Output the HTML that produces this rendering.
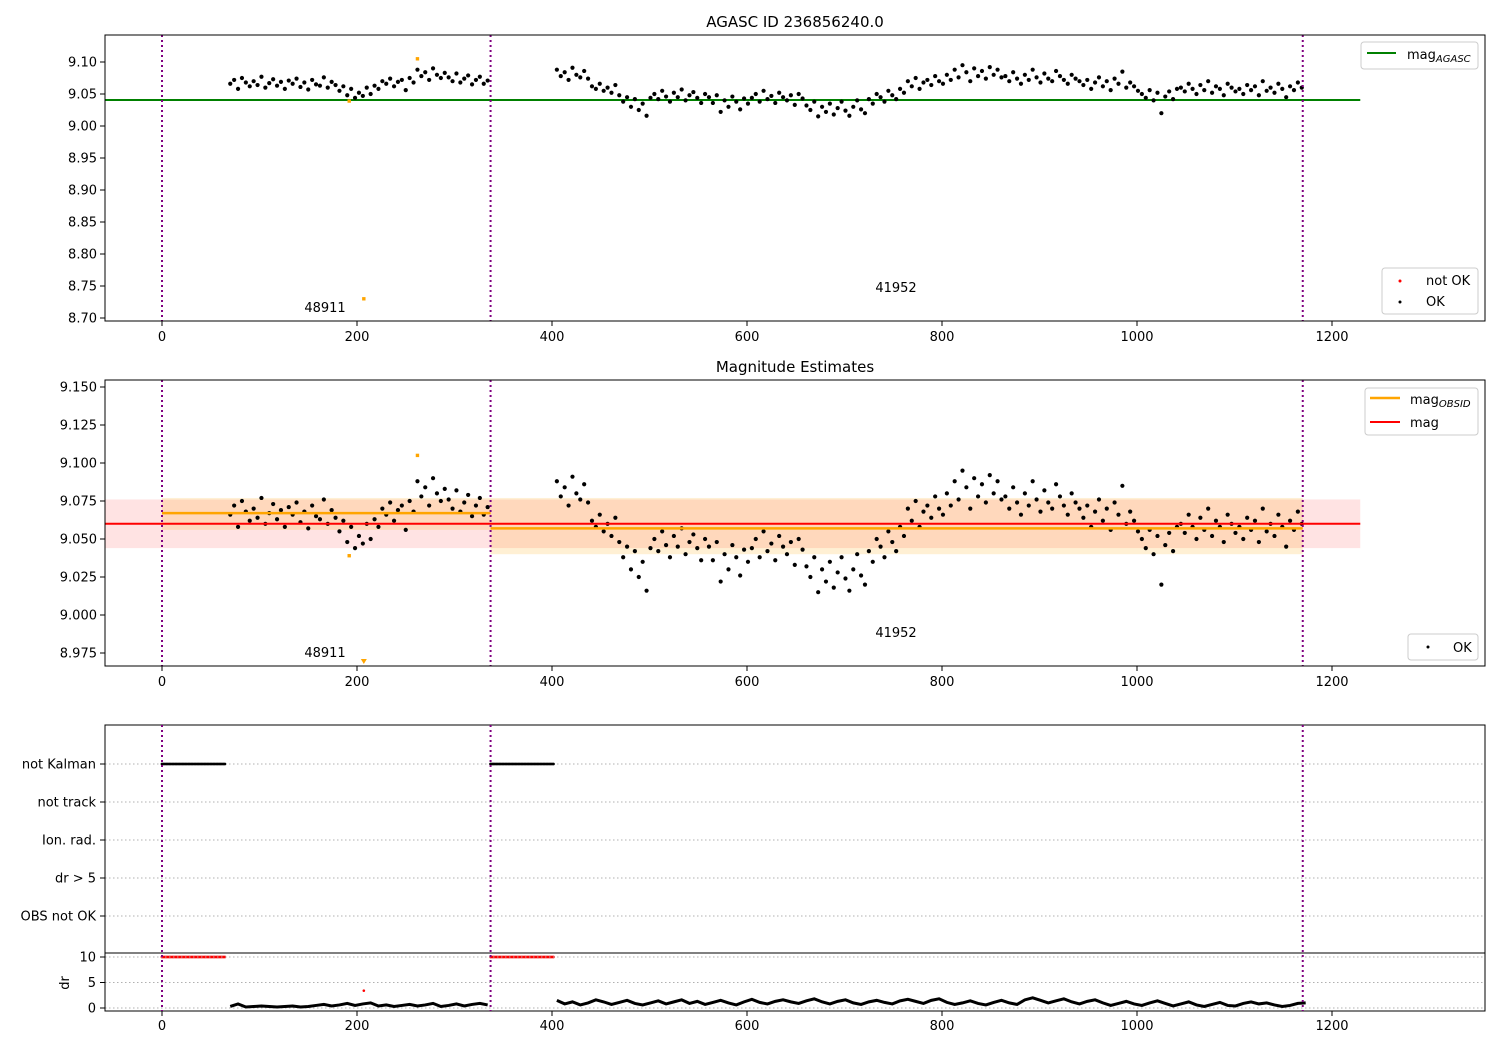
<!DOCTYPE html>
<html><head><meta charset="utf-8"><style>
body{margin:0;background:#fff}
svg{display:block;font-family:"DejaVu Sans","Liberation Sans",sans-serif}
</style></head><body>
<svg id="c" width="1500" height="1050" xmlns="http://www.w3.org/2000/svg"></svg>
<script>
// ---- data ----
const seg1Start = 70, seg2Start = 405, stepT = 4;
const mag1 = [66,72,58,75,68,62,70,64,77,60,67,73,63,69,58,71,
66,74,61,68,57,72,65,63,76,60,69,64,
55,62,48,58,44,52,47,60,50,
63,58,70,66,74,62,69,72,56,75,68,
88,78,84,72,90,80,75,83,
76,70,82,68,74,79,65,72,77,66,71];
const mag2 = [88,78,84,72,91,80,76,86,74,
62,58,66,55,60,52,64,48,
38,45,30,42,25,35,16,44,
50,42,55,46,38,52,45,57,40,48,53,44,36,50,
45,36,48,22,40,30,46,38,26,43,35,
44,50,38,55,42,47,36,52,45,40,48,33,50,43,
32,25,38,15,30,22,35,18,28,38,24,16,30,40,26,20,
42,35,50,45,38,55,48,42,58,52,
70,62,75,58,68,72,64,78,70,66,
80,72,88,76,95,84,70,90,78,86,74,92,80,88,76,
78,70,84,74,66,80,72,88,76,68,82,74,70,86,78,72,66,80,74,70,
64,72,58,68,76,62,70,56,74,66,85,60,68,62,55,
50,44,56,40,52,20,46,54,42,58,
60,54,66,58,50,64,56,70,52,62,58,48,66,60,54,
58,50,64,56,62,48,70,55,60,52,66,58,45,62,56,68,60];
const drStep = 8;
const dr1 = [0.3,0.8,0.2,0.3,0.4,0.3,0.2,0.3,0.4,0.2,0.3,0.5,0.7,0.4,0.6,0.9,0.5,0.8,1.0,0.4,0.6,0.3,0.5,0.7,0.4,0.6,0.9,0.3,0.5,0.8,0.4,0.7,0.9,0.6];
const dr2 = [1.5,0.8,1.2,0.6,1.0,1.6,1.2,0.7,1.1,1.5,0.9,0.6,
1.0,1.4,0.8,1.2,1.6,0.9,1.3,0.7,1.1,1.5,1.0,0.6,
1.2,1.7,1.1,0.8,1.3,1.6,1.2,0.9,1.4,1.8,1.2,0.8,
1.3,1.6,1.0,0.7,1.2,1.5,1.1,0.8,1.4,1.7,1.3,0.9,
1.5,1.8,1.1,0.7,1.0,1.4,0.9,0.6,1.1,1.5,1.0,0.7,
1.6,2.0,1.5,1.0,1.4,1.8,1.2,0.8,1.3,1.6,1.0,0.5,
0.9,1.3,0.8,0.5,1.0,1.4,0.9,0.4,0.8,1.2,0.6,0.3,
0.7,1.1,0.5,0.4,0.9,1.2,0.8,1.0,0.6,0.3,0.5,0.9,1.0];
const notOkT = [192,262], notOkMag = [9.039,9.105];
const lowT = 207, lowMag = 8.73, lowDr = 3.4;
const flagRanges = [[0,65],[337,402]];
const obsBounds = [0,337,1170];
const obsids = ["48911","41952"];
const obsMag = [9.067,9.057], obsLo = [9.056,9.040], obsHi = [9.077,9.077];
const magAgasc = 9.0406, magAll = 9.060, magLo = 9.044, magHi = 9.076, lineEnd = 1229;
const xTicks = [0,200,400,600,800,1000,1200];
const y1Ticks = [8.70,8.75,8.80,8.85,8.90,8.95,9.00,9.05,9.10];
const y2Ticks = [8.975,9.000,9.025,9.050,9.075,9.100,9.125,9.150];
const flagCats = ["not Kalman","not track","Ion. rad.","dr > 5","OBS not OK"];
const drTicks = [0,5,10];

// ---- axes ----
const L=105,R=1485;
const X = t => 162 + 0.975*t;
const Y1 = m => 62 + (9.10-m)*640;
const Y2 = m => 387 + (9.15-m)*1520;
const Y3 = i => 764 + 38*i;
const Y4 = d => 1008 - 5.1*d;
const svg = document.getElementById('c');
const NS='http://www.w3.org/2000/svg';
function el(tag, attrs, parent){const e=document.createElementNS(NS,tag);for(const k in attrs)e.setAttribute(k,attrs[k]);(parent||svg).appendChild(e);return e;}
function txt(s,attrs,parent){const e=el('text',attrs,parent);e.textContent=s;return e;}

const panels=[{t:35,b:321,Y:Y1,ticks:y1Ticks,fmt:v=>v.toFixed(2),name:'agasc-panel'},
              {t:380,b:666,Y:Y2,ticks:y2Ticks,fmt:v=>v.toFixed(3),name:'estimates-panel'}];
panels.forEach((p,pi)=>{
  const g=el('g',{});
  
  
  const cp='cp'+pi;
  const cl=el('clipPath',{id:cp},g); el('rect',{x:L,y:p.t,width:R-L,height:p.b-p.t},cl);
  const plot=el('g',{'clip-path':`url(#${cp})`},g);
  if(pi===0){
    const gl=el('line',{x1:L,x2:X(lineEnd),y1:Y1(magAgasc),y2:Y1(magAgasc),stroke:'#008000','stroke-width':2},plot);
    
    
  } else {
    const b=el('rect',{x:L,y:Y2(magHi),width:X(lineEnd)-L,height:Y2(magLo)-Y2(magHi),fill:'rgba(255,0,0,0.11)'},plot);
    
    
    for(let i=0;i<2;i++){
      const ob=el('rect',{x:X(obsBounds[i]),y:Y2(obsHi[i]),width:X(obsBounds[i+1])-X(obsBounds[i]),height:Y2(obsLo[i])-Y2(obsHi[i]),fill:'rgba(255,165,0,0.17)'},plot);
      
      
    }
  }
  const pts=el('g',{fill:'#000'},plot);
  
  
  mag1.forEach((v,i)=>el('circle',{cx:X(seg1Start+i*stepT),cy:p.Y(9+v/1000),r:2.1},pts));
  mag2.forEach((v,i)=>el('circle',{cx:X(seg2Start+i*stepT),cy:p.Y(9+v/1000),r:2.1},pts));
  notOkT.forEach((t,i)=>{const r=el('rect',{x:X(t)-1.7,y:p.Y(notOkMag[i])-1.7,width:3.4,height:3.4,fill:'orange'},plot);
    });
  if(pi===0){el('rect',{x:X(lowT)-1.7,y:Y1(lowMag)-1.7,width:3.4,height:3.4,fill:'orange'},plot);}
  else {el('path',{d:`M${X(lowT)-3},${p.b-7} h6 l-3,5 z`,fill:'orange'},plot);}
  if(pi===1){
    for(let i=0;i<2;i++){
      const ol=el('line',{x1:X(obsBounds[i]),x2:X(obsBounds[i+1]),y1:Y2(obsMag[i]),y2:Y2(obsMag[i]),stroke:'orange','stroke-width':2.5},plot);
      
    }
    const rl=el('line',{x1:L,x2:X(lineEnd),y1:Y2(magAll),y2:Y2(magAll),stroke:'red','stroke-width':2},plot);
    
  }
  obsBounds.forEach(t=>el('line',{x1:X(t),x2:X(t),y1:p.t,y2:p.b,stroke:'purple','stroke-width':2,'stroke-dasharray':'2,3'},plot));
  txt(obsids[0],{x:325,y:p.t+277,'font-size':13,'text-anchor':'middle'},g);
  txt(obsids[1],{x:896,y:p.t+257,'font-size':13,'text-anchor':'middle'},g);
  el('rect',{x:L,y:p.t,width:R-L,height:p.b-p.t,fill:'none',stroke:'#000','stroke-width':1},g);
  p.ticks.forEach(v=>{const y=p.Y(v);el('line',{x1:L-5,x2:L,y1:y,y2:y,stroke:'#000'},g);
    txt(p.fmt(v),{x:L-8,y:y+4.5,'font-size':13,'text-anchor':'end'},g);});
  xTicks.forEach(v=>{const x=X(v);el('line',{x1:x,x2:x,y1:p.b,y2:p.b+5,stroke:'#000'},g);
    txt(String(v),{x:x,y:p.b+20,'font-size':13,'text-anchor':'middle'},g);});
});
txt('AGASC ID 236856240.0',{x:795,y:27,'font-size':15,'text-anchor':'middle'});
txt('Magnitude Estimates',{x:795,y:372,'font-size':15,'text-anchor':'middle'});

function legendBox(x,y,w,h,name){const r=el('rect',{x:x,y:y,width:w,height:h,rx:3,fill:'rgba(255,255,255,0.85)',stroke:'#ccc'});}
legendBox(1361,42,117,27,'legend-agasc');
el('line',{x1:1367,x2:1396,y1:53,y2:53,stroke:'#008000','stroke-width':2});
const t1=txt('mag',{x:1407,y:59,'font-size':13});const s1=el('tspan',{'font-size':10,'font-style':'italic',dy:3},t1);s1.textContent='AGASC';
legendBox(1382,268,96,46,'legend-ok-status');
el('circle',{cx:1400,cy:281,r:1.5,fill:'red'});txt('not OK',{x:1426,y:285,'font-size':13});
el('circle',{cx:1400,cy:302,r:1.5,fill:'#000'});txt('OK',{x:1426,y:306,'font-size':13});
legendBox(1365,388,113,47,'legend-mag');
el('line',{x1:1370,x2:1400,y1:398,y2:398,stroke:'orange','stroke-width':2.5});
const t2=txt('mag',{x:1410,y:404,'font-size':13});const s2=el('tspan',{'font-size':10,'font-style':'italic',dy:3},t2);s2.textContent='OBSID';
el('line',{x1:1370,x2:1400,y1:422,y2:422,stroke:'red','stroke-width':2});txt('mag',{x:1410,y:427,'font-size':13});
legendBox(1408,634,70,26,'legend-ok');
el('circle',{cx:1428,cy:647,r:1.5,fill:'#000'});txt('OK',{x:1453,y:652,'font-size':13});

const g3=el('g',{});


flagCats.forEach((c,i)=>{const y=Y3(i);el('line',{x1:L,x2:R,y1:y,y2:y,stroke:'#b0b0b0','stroke-dasharray':'1.5,2.5'},g3);
  el('line',{x1:L-5,x2:L,y1:y,y2:y,stroke:'#000'},g3);txt(c,{x:L-9,y:y+4.5,'font-size':13,'text-anchor':'end'},g3);});
flagRanges.forEach(r=>{for(let t=r[0];t<=r[1];t+=1.5){el('circle',{cx:X(t),cy:Y3(0),r:1.4,fill:'#000'},g3);el('circle',{cx:X(t),cy:Y4(10),r:1.4,fill:'red'},g3);}});
el('rect',{x:L,y:725,width:R-L,height:228,fill:'none',stroke:'#000'},g3);
const g4=el('g',{});


drTicks.forEach(v=>{const y=Y4(v);el('line',{x1:L,x2:R,y1:y,y2:y,stroke:'#b0b0b0','stroke-dasharray':'1.5,2.5'},g4);
  el('line',{x1:L-5,x2:L,y1:y,y2:y,stroke:'#000'},g4);txt(String(v),{x:L-9,y:y+4.5,'font-size':13,'text-anchor':'end'},g4);});
[dr1,dr2].forEach((arr,k)=>{const s=k?seg2Start:seg1Start;
  const pl=el('polyline',{points:arr.map((d,i)=>X(s+i*drStep)+','+Y4(d)).join(' '),fill:'none',stroke:'#000','stroke-width':3},g4);
  });
el('circle',{cx:X(lowT),cy:Y4(lowDr),r:1.3,fill:'red'},g4);
el('rect',{x:L,y:953,width:R-L,height:58,fill:'none',stroke:'#000'},g4);
txt('dr',{x:0,y:0,'font-size':13,'text-anchor':'middle',transform:'translate(69,983) rotate(-90)'},g4);
xTicks.forEach(v=>{const x=X(v);el('line',{x1:x,x2:x,y1:1011,y2:1016,stroke:'#000'},g4);
  txt(String(v),{x:x,y:1030,'font-size':13,'text-anchor':'middle'},g4);});
obsBounds.forEach(t=>el('line',{x1:X(t),x2:X(t),y1:725,y2:1011,stroke:'purple','stroke-width':2,'stroke-dasharray':'2,3'}));
</script>
</body></html>
